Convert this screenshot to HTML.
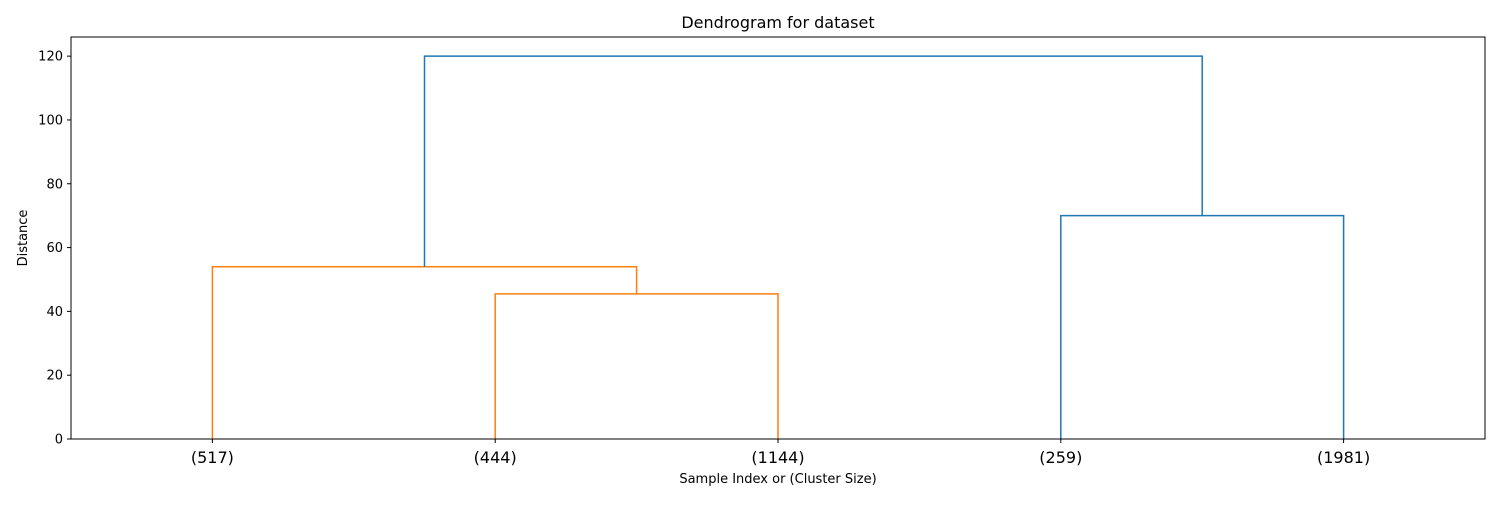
<!DOCTYPE html>
<html><head><meta charset="utf-8"><style>
body{margin:0;background:#fff;font-family:"Liberation Sans","DejaVu Sans",sans-serif}
svg text{font-family:"DejaVu Sans","Liberation Sans",sans-serif}
</style></head><body>
<svg id="chart" width="1500" height="500">
<text x="778" y="28" font-size="16" text-anchor="middle">Dendrogram for dataset</text>
<g id="yticks"></g>
<g id="xticks"></g>
<g id="links"></g>
<rect x="71" y="37" width="1414" height="402" fill="none" stroke="#000" stroke-width="1"/>
<text x="778" y="483" font-size="13" text-anchor="middle">Sample Index or (Cluster Size)</text>
<text transform="translate(27,238) rotate(-90)" font-size="13" text-anchor="middle">Distance</text>
</svg>
<script>
const leafLabels=["(517)","(444)","(1144)","(259)","(1981)"];
const yTickValues=[0,20,40,60,80,100,120];
// links: icoord (x in leaf units: leaves at 5,15,...) and dcoord heights
const linkX=[[15,15,25,25],[5,5,20,20],[35,35,45,45],[12.5,12.5,40,40]];
const linkY=[[0,45.5,45.5,0],[0,54,54,45.5],[0,70,70,0],[54,120,120,70]];
const linkColors=["#ff7f0e","#ff7f0e","#1f77b4","#1f77b4"];
const X0=71,X1=1485,Y0=439,Y1=37,XMAX=50,YMAX=126;
const sx=v=>X0+(X1-X0)*v/XMAX, sy=v=>Y0-(Y0-Y1)*v/YMAX;
const NS="http://www.w3.org/2000/svg";
function mk(t,a,p){const e=document.createElementNS(NS,t);for(const k in a)e.setAttribute(k,a[k]);p.appendChild(e);return e;}
const yt=document.getElementById('yticks');
yTickValues.forEach(v=>{
 const l=mk('line',{x1:X0-4,x2:X0,y1:sy(v),y2:sy(v),stroke:'#000'},yt);
 
 
 const t=mk('text',{x:X0-8,y:sy(v)+4.5,'font-size':13,'text-anchor':'end'},yt);
 t.textContent=v;
 
 
});
const xt=document.getElementById('xticks');
leafLabels.forEach((s,i)=>{
 const x=sx(5+10*i);
 const l=mk('line',{x1:x,x2:x,y1:Y0,y2:Y0+4,stroke:'#000'},xt);
 
 
 const t=mk('text',{x:x,y:Y0+24,'font-size':16,'text-anchor':'middle'},xt);
 t.textContent=s;
 
 
});
const lg=document.getElementById('links');
linkX.forEach((xs,i)=>{
 const pts=xs.map((x,j)=>sx(x)+','+sy(linkY[i][j])).join(' ');
 const p=mk('polyline',{points:pts,fill:'none',stroke:linkColors[i],'stroke-width':1.5},lg);
 
 
});
</script>
</body></html>
